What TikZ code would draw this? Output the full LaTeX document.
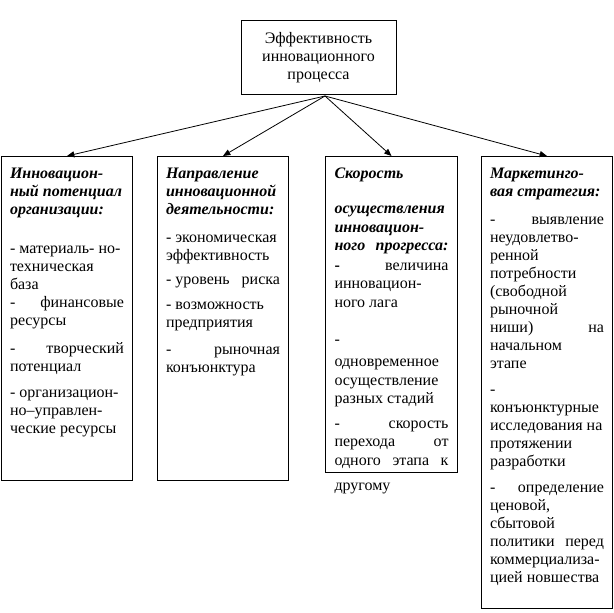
\documentclass[tikz,border=0pt]{standalone}
\usepackage{fontspec}
\setmainfont{Liberation Serif}
\usetikzlibrary{arrows.meta}

\newcommand{\coltext}[3][13.5pt]{\parbox[t][#2][t]{85.5pt}{\setlength{\baselineskip}{#1}#3}}
\newcommand{\gap}{\nobreak\hfill}
\newcommand{\hd}[1]{{\bfseries\itshape #1}}

\begin{document}
\begin{tikzpicture}[x=0.75pt, y=-0.75pt,
  every node/.style={font=\fontsize{12}{13.5}\selectfont},
  topbox/.style={draw, line width=0.75pt, align=center, minimum width=116.25pt, minimum height=55.5pt, inner sep=0pt},
  column/.style={draw, line width=0.75pt, anchor=north west, inner xsep=6.375pt, inner ysep=8.5pt},
  link/.style={line width=0.6pt, -{Triangle[length=5.5pt,width=4.5pt]}}]
\useasboundingbox (0,0) rectangle (614,613);

\node[topbox] (eff) at (318.5,58) {Эффективность\\ инновационного\\ процесса};
\coordinate (src) at (325,96);

\node[column] (pot) at (1,156) {\coltext{226pt}{%
  \hd{Инновацион-\\ ный~потенциал\\ организации:}\\[15.75pt]
  -~материаль-~но-\\ техническая\\ база\\
  -\gap финансовые\\ ресурсы\\[7.5pt]
  -\gap творческий\\ потенциал\\[6pt]
  -~организацион-\\ но–управлен-\\ ческие~ресурсы}};

\node[column] (dir) at (157,156) {\coltext{226pt}{%
  \hd{Направление\\ инновационной\\ деятельности:}\\[7.5pt]
  -~экономическая\\ эффективность\\[5pt]
  -~уровень\gap риска\\[5pt]
  -~возможность\\ предприятия\\[6.5pt]
  -\gap рыночная\\ конъюнктура}};

\node[column, inner xsep=6.75pt] (speed) at (325,156) {\coltext[13.9pt]{220pt}{%
  \hd{Скорость}\\[12.4pt]
  \hd{осуществления\\ инновацион-\\ ного\gap прогресса:}\\[1pt]
  \textbf{-}\gap величина\\ инновацион-\\ ного~лага\\[13.5pt]
  -\\[3pt]
  одновременное\\ осуществление\\ разных~стадий\\[4.5pt]
  -\gap скорость\\ перехода\gap от\\ одного\gap этапа\gap к\\[5pt]
  другому}};

\node[column] (mkt) at (481,156) {\coltext{322pt}{%
  \hd{Маркетинго-\\ вая~стратегия:}\\[7.5pt]
  -\gap выявление\\ неудовлетво-\\ ренной\\ потребности\\ (свободной\\ рыночной\\ ниши)\gap на\\ начальном\\ этапе\\[6pt]
  -\\ конъюнктурные\\ исследования~на\\ протяжении\\ разработки\\[6pt]
  -\gap определение\\ ценовой,\\ сбытовой\\ политики\gap перед\\ коммерциализа-\\ цией~новшества}};

\foreach \b in {pot,dir,speed,mkt}
  \draw[link] (src) -- (\b.north);
\end{tikzpicture}
\end{document}
